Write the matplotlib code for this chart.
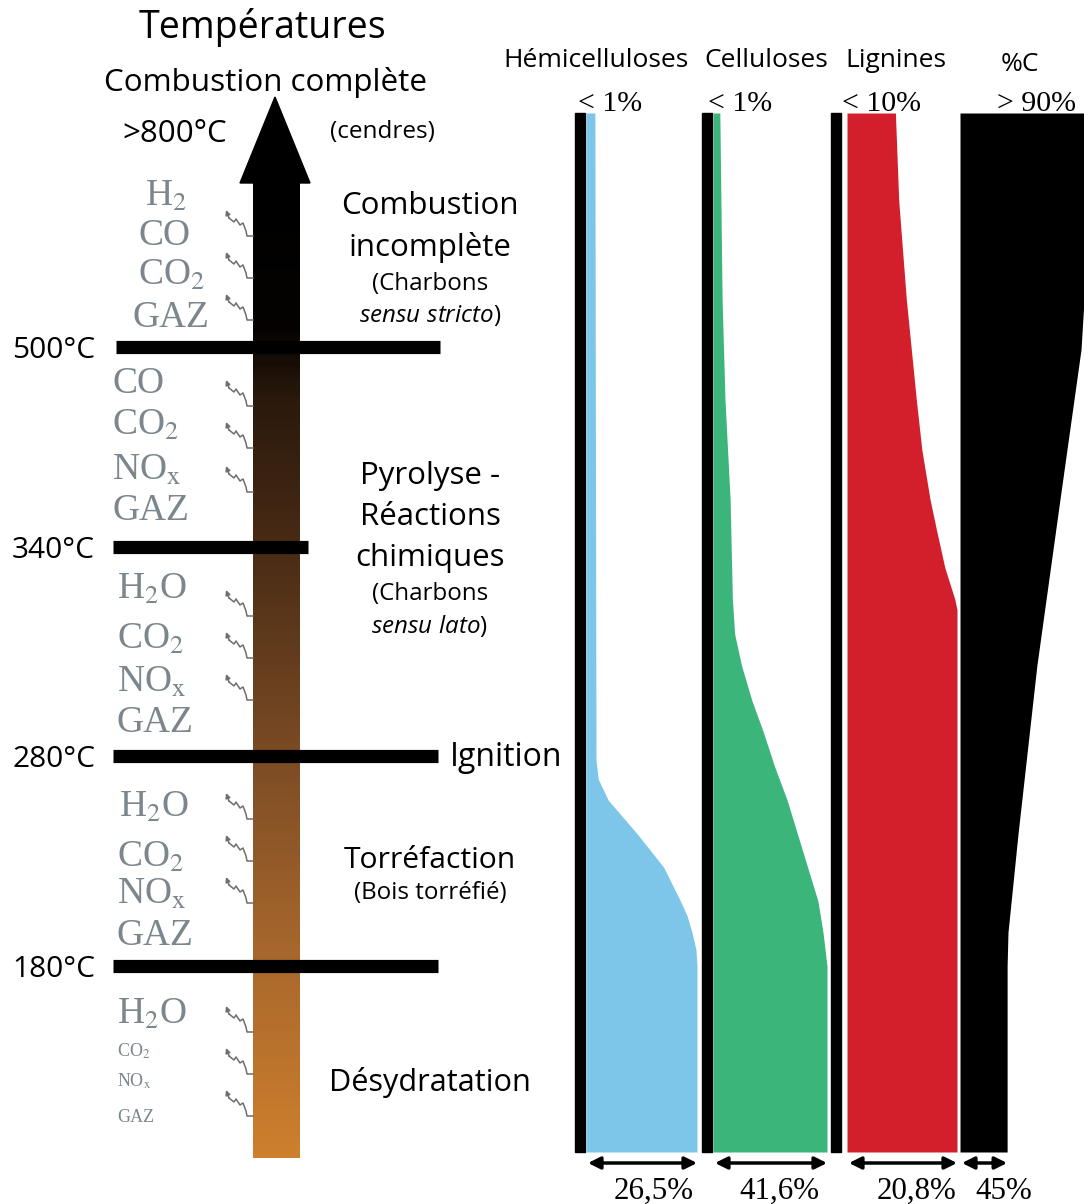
import numpy as np
import matplotlib.pyplot as plt
from matplotlib.colors import LinearSegmentedColormap
from matplotlib.patches import Polygon

plt.rcParams['font.family'] = ['Open Sans', 'DejaVu Sans']
plt.rcParams['mathtext.fontset'] = 'custom'
plt.rcParams['mathtext.rm'] = 'Open Sans'
plt.rcParams['mathtext.it'] = 'Open Sans:italic'

# --- DONNEES ---

# paliers de temperature (°C) tracés en barres noires
paliers = [500, 340, 280, 180]
etiquettes_paliers = ['500°C', '340°C', '280°C', '180°C']

# gaz émis dans chaque étape (du haut vers le bas)
gaz_etapes = [
    ['H$_2$', 'CO', 'CO$_2$', 'GAZ'],
    ['CO', 'CO$_2$', 'NO$_\\mathrm{x}$', 'GAZ'],
    ['H$_2$O', 'CO$_2$', 'NO$_\\mathrm{x}$', 'GAZ'],
    ['H$_2$O', 'CO$_2$', 'NO$_\\mathrm{x}$', 'GAZ'],
    ['H$_2$O', 'CO$_2$', 'NO$_\\mathrm{x}$', 'GAZ'],
]

# composants du bois
composants = ['Hémicelluloses', 'Celluloses', 'Lignines', '%C']
couleurs = ['#7ec6e9', '#3bb57a', '#d21f2b', '#000000']
valeurs_haut = ['< 1%', '< 1%', '< 10%', '> 90%']
valeurs_bas = [26.5, 41.6, 20.8, 45]

# fraction restante (largeur relative) en fonction de la température
temp_hemi = [20, 180, 188, 196, 204, 211, 227, 243, 259, 269, 278, 800]
frac_hemi = [1.0, 1.0, 0.99, 0.955, 0.91, 0.85, 0.70, 0.46, 0.20, 0.11, 0.09, 0.08]

temp_cell = [20, 180, 196, 211, 227, 243, 259, 275, 287, 296, 306, 315, 325, 378, 458, 560, 800]
frac_cell = [1.0, 1.0, 0.965, 0.92, 0.83, 0.74, 0.65, 0.54, 0.44, 0.34, 0.25, 0.19, 0.17, 0.15, 0.105, 0.08, 0.06]

temp_lign = [20, 322, 325, 334, 351, 378, 418, 458, 560, 688, 800]
frac_lign = [1.0, 1.0, 0.98, 0.89, 0.82, 0.755, 0.68, 0.63, 0.54, 0.47, 0.44]

temp_carb = [20, 180, 196, 243, 306, 378, 498, 560, 800]
frac_carb = [0.38, 0.38, 0.387, 0.468, 0.62, 0.806, 0.976, 1.0, 1.0]

profils = [(temp_hemi, frac_hemi), (temp_cell, frac_cell),
           (temp_lign, frac_lign), (temp_carb, frac_carb)]

# --- MISE EN PAGE (pixels) ---
T_AXE = [20, 180, 280, 340, 500, 800]
Y_AXE = [1152, 966, 756, 547, 347, 113]


def ty(t):
    # position verticale d'une température dans le schéma
    return np.interp(t, T_AXE, Y_AXE)


fig = plt.figure(figsize=(10.84, 12.04), dpi=100)
ax = fig.add_axes([0, 0, 1, 1])
ax.set_xlim(0, 1084)
ax.set_ylim(1204, 0)
ax.axis('off')

# barre de température (dégradé)
cmap = LinearSegmentedColormap.from_list('bois', [
    (0.0, '#000000'), (0.15, '#050302'), (0.22, '#2a190c'), (0.38, '#4a2c15'),
    (0.58, '#7a4a24'), (0.78, '#a5662c'), (1.0, '#cd7f2d')])
grad = np.linspace(0, 1, 300).reshape(-1, 1)
ax.imshow(grad, cmap=cmap, extent=[253, 300, 1158, 180], aspect='auto', zorder=1)
ax.add_patch(Polygon([[240, 183], [310, 183], [275, 97]], closed=True, color='k', zorder=2))

# barres des paliers
x_paliers = [(116, 440), (113, 308), (113, 438), (113, 438)]
for t, lab, (x0, x1) in zip(paliers, etiquettes_paliers, x_paliers):
    ax.hlines(ty(t), x0, x1, color='k', lw=9.5, capstyle='butt', zorder=3)
    ax.text(12, ty(t) + 11, lab, fontsize=21.5, ha='left', va='baseline')

# gaz
y_gaz = [[206, 245, 285, 327], [393, 435, 480, 520], [599, 649, 692, 732],
         [817, 867, 904, 945], [1024, 1057, 1087, 1122]]
x_gaz = [[145, 138, 138, 133], [112, 112, 112, 113], [117, 117, 117, 117],
         [119, 117, 117, 117], [117, 117, 117, 117]]
taille_gaz = [[27, 27, 27, 27]] * 4 + [[27, 13, 13, 13]]
for noms, ys, xs, ts in zip(gaz_etapes, y_gaz, x_gaz, taille_gaz):
    for nom, y, x, s in zip(noms, ys, xs, ts):
        ax.text(x, y, nom, fontsize=s, family='Liberation Serif', color='#7b878d',
                math_fontfamily='stix', ha='left', va='baseline')

# petites flèches en zigzag (qui partent de la barre)
zig_dx = np.array([0, 3, 8, 10, 14, 17, 20, 21, 27])
zig_dy = np.array([0, 8, 12, 9, 15, 13, 21, 26, 26])
y_zig = [210, 252, 294, 380, 422, 466, 590, 632, 674, 793, 835, 877, 1006, 1048, 1090]
for yz in y_zig:
    xs = 226 + zig_dx
    ys = yz + zig_dy
    ax.plot(xs[1:], ys[1:], color='#6e6e6e', lw=1.1, zorder=2)
    ax.annotate('', xy=(xs[0], ys[0]), xytext=(xs[1], ys[1]),
                arrowprops=dict(arrowstyle='-|>', color='#6e6e6e', lw=1.1,
                                mutation_scale=7, shrinkA=0, shrinkB=0))

# textes de gauche
ax.text(262, 38, 'Températures', fontsize=27, ha='center', va='baseline')
ax.text(265, 91, 'Combustion complète', fontsize=22.6, ha='center', va='baseline')
ax.text(122, 142, '>800°C', fontsize=22.5, ha='left', va='baseline')
ax.text(382, 138, '(cendres)', fontsize=17.5, ha='center', va='baseline')

etapes = [
    (430, 214, 'Combustion', 22.5), (430, 256, 'incomplète', 22.5),
    (430, 290, '(Charbons', 17.4), (430, 322, r'$\mathit{sensu\ stricto}$)', 17.4),
    (430, 484, 'Pyrolyse -', 22.5), (430, 525, 'Réactions', 22.5),
    (430, 566, 'chimiques', 22.5), (430, 600, '(Charbons', 17.4),
    (430, 633, r'$\mathit{sensu\ lato}$)', 17.4),
    (430, 868, 'Torréfaction', 21.7), (430, 899, '(Bois torréfié)', 17.4),
    (430, 1091, 'Désydratation', 22.1),
]
for x, y, txt, s in etapes:
    ax.text(x, y, txt, fontsize=s, ha='center', va='baseline')
ax.text(450, 766, 'Ignition', fontsize=23, ha='left', va='baseline')

# colonnes des composants
x_bande = [575, 702, 831]
x_gauche = [586, 713, 847, 960]
largeur = [111, 114, 110, 124]
y_haut, y_bas = 113, 1152
for xb in x_bande:
    ax.add_patch(plt.Rectangle((xb, y_haut), 10, y_bas - y_haut, color='k', zorder=2))

for (temps, frac), xg, w, c in zip(profils, x_gauche, largeur, couleurs):
    yy = ty(np.array(temps))
    xx = xg + w * np.array(frac)
    yy = np.concatenate([[y_bas], yy, [y_haut]])
    xx = np.concatenate([[xx[0]], xx, [xx[-1]]])
    ax.fill_betweenx(yy, xg, xx, color=c, lw=0, zorder=2)

# titres et valeurs
x_titres = [596, 766, 896, 1020]
for x, nom in zip(x_titres, composants):
    ax.text(x, 67 if nom != '%C' else 71, nom, fontsize=19, ha='center', va='baseline')

x_haut = [578, 708, 842, 997]
for x, v in zip(x_haut, valeurs_haut):
    ax.text(x, 111, v, fontsize=21.5, family='Liberation Serif', ha='left', va='baseline', zorder=1)

x_bas = [654, 779, 917, 1004]
for (temps, frac), xg, w, x, v in zip(profils, x_gauche, largeur, x_bas, valeurs_bas):
    xr = xg + w * frac[0]
    ax.annotate('', xy=(xg + 2, 1163), xytext=(xr, 1163),
                arrowprops=dict(arrowstyle='<|-|>', color='k', lw=2.5, mutation_scale=18,
                                shrinkA=0, shrinkB=0))
    ax.text(x, 1199, ('%g' % v).replace('.', ',') + '%', fontsize=22.3,
            family='Liberation Serif', ha='center', va='baseline')

fig.savefig('out.png', dpi=100)
